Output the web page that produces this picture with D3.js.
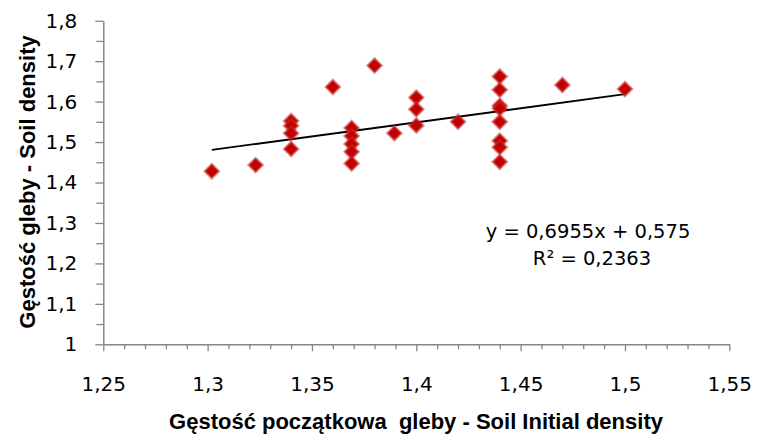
<!DOCTYPE html>
<html>
<head>
<meta charset="utf-8">
<script src="https://cdn.jsdelivr.net/npm/d3@7"></script>
<style>
  body { margin: 0; background: #fff; }
  svg { display: block; }
  .tick-label { font-family: "DejaVu Sans", sans-serif; font-size: 20px; fill: #000; }
  .axis-title { font-family: "Liberation Sans", Arial, sans-serif; font-size: 22px; font-weight: bold; fill: #000; }
  .eq { font-family: "DejaVu Sans", sans-serif; font-size: 19.5px; fill: #000; }
</style>
</head>
<body>
<div id="chart"></div>
<script>
// measured points: initial density (x) vs soil density (y)
const initialDensity = [
  1.302, 1.323,
  1.34, 1.34, 1.34, 1.34,
  1.36,
  1.369, 1.369, 1.369, 1.369, 1.369,
  1.38, 1.3895,
  1.40, 1.40, 1.40,
  1.42,
  1.44, 1.44, 1.44, 1.44, 1.44, 1.44, 1.44, 1.44,
  1.47, 1.50
];
const soilDensity = [
  1.428, 1.443,
  1.552, 1.54, 1.522, 1.483,
  1.636,
  1.535, 1.515, 1.495, 1.476, 1.447,
  1.689, 1.522,
  1.61, 1.581, 1.541,
  1.55,
  1.662, 1.629, 1.59, 1.583, 1.55, 1.503, 1.487, 1.451,
  1.641, 1.631
];

const xTicks = [1.25, 1.3, 1.35, 1.4, 1.45, 1.5, 1.55];
const yTicks = [1, 1.1, 1.2, 1.3, 1.4, 1.5, 1.6, 1.7, 1.8];

// linear trend as reported on the chart
const trendSlope = 0.6955;
const trendIntercept = 0.575;
const trendLabel = 'y = 0,6955x + 0,575';
const r2Label = 'R² = 0,2363';

const xTitle = 'Gęstość początkowa\u00a0 gleby - Soil Initial density';
const yTitle = 'Gęstość gleby - Soil density';

const width = 760, height = 437;
const plot = { left: 103.3, right: 729.3, top: 20.7, bottom: 344.3 };

const svg = d3.select('#chart')
  .append('svg')
  .attr('width', width)
  .attr('height', height);

const x = d3.scaleLinear().domain([1.25, 1.55]).range([plot.left, plot.right]);
const y = d3.scaleLinear().domain([1, 1.8]).range([plot.bottom, plot.top]);

const locale = d3.formatLocale({ decimal: ',', thousands: ' ', grouping: [3], currency: ['', ''] });
const fmt = locale.format('.2~f');

const axisColor = '#868686';

// minor ticks
const xMinor = d3.range(1.25, 1.5501, 0.01).filter(v => !xTicks.some(t => Math.abs(t - v) < 1e-6));
const yMinor = d3.range(1.05, 1.8, 0.1);

svg.append('g')
  .attr('transform', `translate(0,${plot.bottom})`)
  .call(d3.axisBottom(x).tickValues(xMinor).tickSize(5).tickFormat(''))
  .call(g => g.select('.domain').remove())
  .call(g => g.selectAll('line').attr('stroke', axisColor).attr('stroke-width', 1.3));

svg.append('g')
  .attr('transform', `translate(${plot.left},0)`)
  .call(d3.axisLeft(y).tickValues(yMinor).tickSize(7).tickFormat(''))
  .call(g => g.select('.domain').remove())
  .call(g => g.selectAll('line').attr('stroke', axisColor).attr('stroke-width', 1.3));

// major axes
const xAxis = svg.append('g')
  .attr('transform', `translate(0,${plot.bottom})`)
  .call(d3.axisBottom(x).tickValues(xTicks).tickSize(7).tickSizeOuter(0).tickPadding(26).tickFormat(fmt));

const yAxis = svg.append('g')
  .attr('transform', `translate(${plot.left},0)`)
  .call(d3.axisLeft(y).tickValues(yTicks).tickSize(8).tickSizeOuter(0).tickPadding(18).tickFormat(fmt));

[xAxis, yAxis].forEach(ax => {
  ax.attr('font-family', null).attr('font-size', null);
  ax.select('.domain').attr('stroke', axisColor).attr('stroke-width', 1.5);
  ax.selectAll('.tick line').attr('stroke', axisColor).attr('stroke-width', 1.3);
  ax.selectAll('.tick text').attr('class', 'tick-label');
});

// trend line over the data range
const xExtent = d3.extent(initialDensity);
svg.append('line')
  .attr('x1', x(xExtent[0]))
  .attr('y1', y(trendSlope * xExtent[0] + trendIntercept))
  .attr('x2', x(xExtent[1]))
  .attr('y2', y(trendSlope * xExtent[1] + trendIntercept))
  .attr('stroke', '#000')
  .attr('stroke-width', 1.8);

// diamond markers
const points = initialDensity.map((v, i) => ({ x: v, y: soilDensity[i] }));
const diamond = d3.symbol().type(d3.symbolSquare).size(95);

svg.append('g')
  .selectAll('path')
  .data(points)
  .enter()
  .append('path')
  .attr('d', diamond)
  .attr('transform', d => `translate(${x(d.x)},${y(d.y)}) rotate(45)`)
  .attr('fill', '#C00000')
  .attr('stroke', 'rgba(200,40,40,0.55)')
  .attr('stroke-width', 2.6);

// equation
svg.append('text')
  .attr('class', 'eq')
  .attr('x', 588)
  .attr('y', 238)
  .attr('text-anchor', 'middle')
  .text(trendLabel);

svg.append('text')
  .attr('class', 'eq')
  .attr('x', 592)
  .attr('y', 265)
  .attr('text-anchor', 'middle')
  .text(r2Label);

// axis titles
svg.append('text')
  .attr('class', 'axis-title')
  .attr('x', 416)
  .attr('y', 429)
  .attr('text-anchor', 'middle')
  .text(xTitle);

svg.append('text')
  .attr('class', 'axis-title')
  .attr('transform', `translate(35,182) rotate(-90)`)
  .attr('text-anchor', 'middle')
  .text(yTitle);
</script>
</body>
</html>
